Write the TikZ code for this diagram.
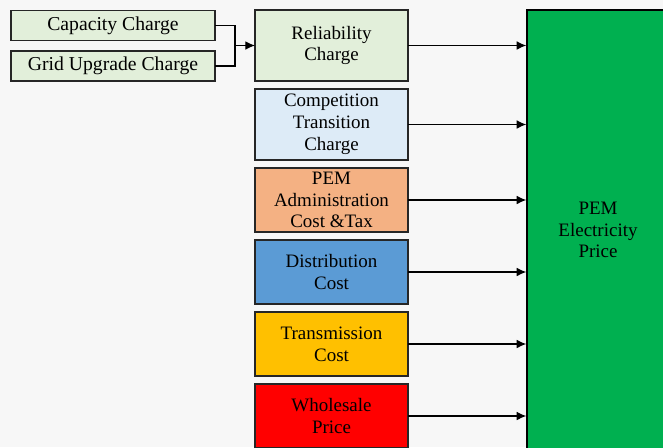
\documentclass[tikz,border=0pt]{standalone}
\usepackage{fontspec}
\setmainfont{Liberation Serif}
\usepackage{tikz}
\usetikzlibrary{arrows,arrows.meta,calc,positioning}
\definecolor{bgGray}{HTML}{F7F7F7}
\definecolor{paleGreen}{HTML}{E2EFDA}
\definecolor{paleBlue}{HTML}{DDEBF7}
\definecolor{peach}{HTML}{F4B183}
\definecolor{midBlue}{HTML}{5B9BD5}
\definecolor{gold}{HTML}{FFC000}
\definecolor{priceGreen}{HTML}{00B050}
\tikzset{
        block/.style = {draw=black!85, rectangle, thick, align=center,
            outer sep=0pt, inner sep=0pt,
            minimum height=1.28cm,
            minimum width=3.06cm},
        tall/.style = {block, minimum height=1.42cm},
        charge/.style = {draw=black!85, rectangle, thick, fill=paleGreen,
            outer sep=0pt, font=\rmfamily\fontsize{11.2}{13}\selectfont,
            minimum height=0.58cm,
            minimum width=4.08cm},
        arrow/.style={draw, -{Latex[length=5.5pt,width=5pt]}, line width=0.7pt},
    }

\begin{document}
\begin{tikzpicture}[font=\rmfamily\fontsize{10.8}{12.4}\selectfont, node distance=0.16cm]
		% canvas
		\fill[bgGray] (0,0) rectangle (13.26,-8.94);
		\useasboundingbox (0,0) rectangle (13.26,-8.94);
		\clip (0,0) rectangle (13.26,-8.94);
		\node[charge]   (Capacity)   at (2.26,-0.51)   {Capacity Charge};
		\node[charge]   (GridUpgrade) at (2.26,-1.32)  {Grid Upgrade Charge};
		\node[tall, fill=paleGreen]  (Reliability) at (6.63,-0.91)   {Reliability\\Charge};
		\node[tall, fill=paleBlue]   (Competition)[below=of Reliability]  {Competition\\Transition\\Charge};
		\node[block, fill=peach]     (Admin)[below=of Competition]        {PEM\\Administration\\Cost \&Tax};
		\node[block, fill=midBlue]   (Distribution)[below=of Admin]       {Distribution\\Cost};
		\node[block, fill=gold]      (Transmission)[below=of Distribution] {Transmission\\Cost};
		\node[block, fill=red]       (Wholesale)[below=of Transmission]   {Wholesale\\Price};
		\node[draw=black, thick, fill=priceGreen, align=center,
		      minimum width=2.84cm, minimum height=8.8cm] (Price) at (11.96,-4.6) {PEM\\Electricity\\Price};
		\coordinate (Join) at (4.7,-0.91);
		\draw[line width=0.7pt] (Capacity.east) -| (Join);
		\draw[line width=0.7pt] (GridUpgrade.east) -| (Join);
		\path[arrow] (Join) -- (Reliability.west);
		\foreach \n in {Reliability,Competition,Admin,Distribution,Transmission,Wholesale}
		    \path[arrow] (\n.east) -- (\n.east -| Price.west);
\end{tikzpicture}
\end{document}
